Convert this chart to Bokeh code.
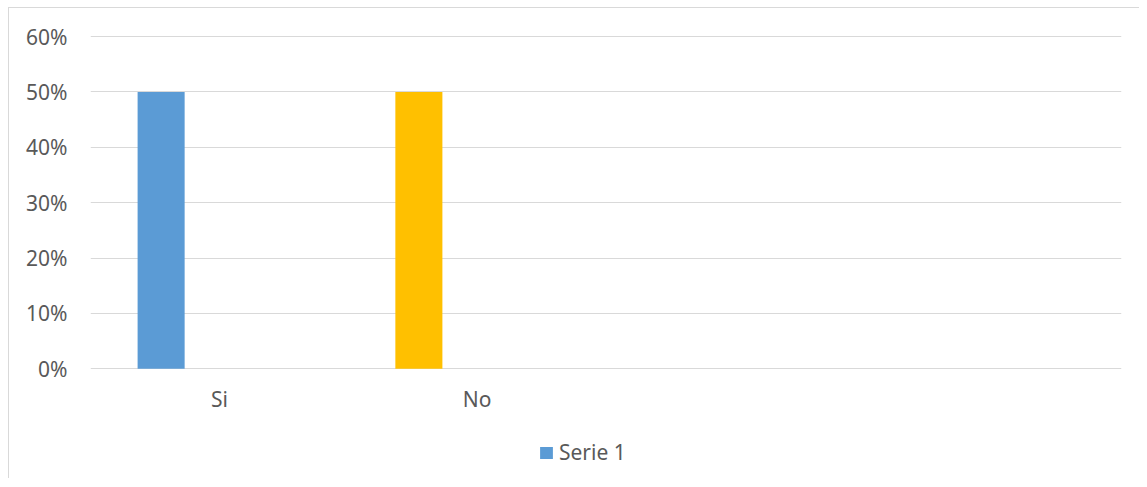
from bokeh.plotting import figure
from bokeh.models import (FactorRange, Range1d, FixedTicker, NumeralTickFormatter,
                          ColumnDataSource, Legend, LegendItem)
from bokeh.transform import dodge
from bokeh.core.properties import value
from bokeh.embed import file_html
from bokeh.resources import INLINE

# data
categories = ["Si", "No", " ", "  "]
bar_categories = ["Si", "No"]
values = [0.50, 0.50]
bar_colors = ["#5B9BD5", "#FFC000"]
y_ticks = [0, 0.1, 0.2, 0.3, 0.4, 0.5, 0.6]
series_name = "Serie 1"

FONT = "Noto Sans"
TXT = "#595959"
GRID = "#d9d9d9"

p = figure(x_range=FactorRange(*categories, range_padding=0),
           y_range=Range1d(-0.2, 0.602),
           width=1131, height=471,
           output_backend="svg", toolbar_location=None,
           min_border_left=81, min_border_right=19,
           min_border_top=27, min_border_bottom=0)
p.margin = (7, 0, 0, 8)
p.styles = {"border-left": "1px solid #d9d9d9", "border-top": "1px solid #d9d9d9"}

src = ColumnDataSource(dict(cat=bar_categories, val=values, color=bar_colors))
r = p.vbar(x=dodge("cat", -0.226, range=p.x_range), top="val", width=0.1825,
           source=src, fill_color="color", line_color=None)

# category labels under the baseline
lab = ColumnDataSource(dict(cat=bar_categories, y=[-0.054] * len(bar_categories)))
p.text(x="cat", y="y", text="cat", source=lab,
       text_align="center", text_baseline="middle",
       text_font=value(FONT), text_font_size="21px", text_color=TXT)

p.outline_line_color = None
p.background_fill_color = "white"
p.border_fill_color = "white"

p.xaxis.visible = False
p.xgrid.grid_line_color = None
p.ygrid.grid_line_color = GRID
p.ygrid.grid_line_width = 1
p.yaxis.ticker = FixedTicker(ticks=y_ticks)
p.ygrid.ticker = FixedTicker(ticks=y_ticks)
p.yaxis.formatter = NumeralTickFormatter(format="0%")

ax = p.yaxis[0]
ax.axis_line_color = None
ax.major_tick_line_color = None
ax.minor_tick_line_color = None
ax.major_label_text_font = FONT
ax.major_label_text_font_size = "21px"
ax.major_label_text_color = TXT
ax.major_label_standoff = 17

legend = Legend(items=[LegendItem(label=series_name, renderers=[r], index=0)],
                location=(448, 13), orientation="horizontal",
                padding=0, margin=0, border_line_color=None,
                background_fill_alpha=0,
                glyph_width=16, glyph_height=15, label_standoff=5,
                label_text_font=FONT, label_text_font_size="21px",
                label_text_color=TXT)
p.add_layout(legend, "center")

open("out.html", "w").write(file_html(p, INLINE))
